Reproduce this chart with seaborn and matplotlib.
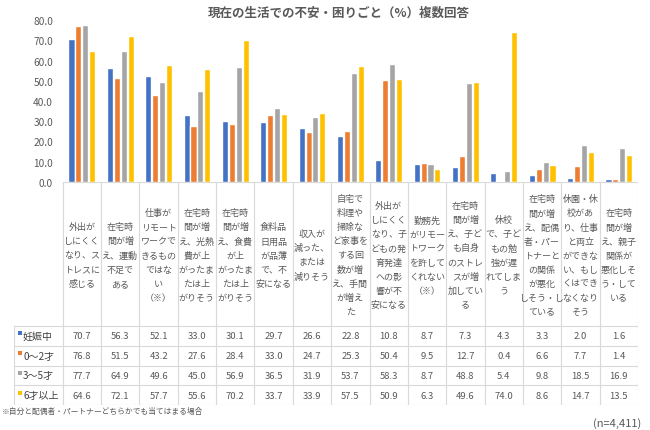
import numpy as np
import pandas as pd
import seaborn as sns
import matplotlib
matplotlib.use('Agg')
import matplotlib.pyplot as plt

# ---------------- data ----------------
categories = [
    '外出が\nしにくく\nなり、ス\nトレスに\n感じる',
    '在宅時\n間が増\nえ、運動\n不足で\nある',
    '仕事が\nリモート\nワークで\nきるもの\nではな\nい\n（※）',
    '在宅時\n間が増\nえ、光熱\n費が上\nがったま\nたは上\nがりそう',
    '在宅時\n間が増\nえ、食費\nが上\nがったま\nたは上\nがりそう',
    '食料品\n日用品\nが品薄\nで、不\n安になる',
    '収入が\n減った、\nまたは\n減りそう',
    '自宅で\n料理や\n掃除な\nど家事を\nする回\n数が増\nえ、手間\nが増え\nた',
    '外出が\nしにくく\nなり、子\nどもの発\n育発達\nへの影\n響が不\n安になる',
    '勤務先\nがリモー\nトワーク\nを許して\nくれない\n（※）',
    '在宅時\n間が増\nえ、子ど\nも自身\nのストレ\nスが増\n加してい\nる',
    '休校\nで、子ど\nもの勉\n強が遅\nれてしま\nう',
    '在宅時\n間が増\nえ、配偶\n者・パー\nトナーと\nの関係\nが悪化\nしそう・し\nている',
    '休園・休\n校があ\nり、仕事\nと両立\nができな\nい、もし\nくはでき\nなくなり\nそう',
    '在宅時\n間が増\nえ、親子\n関係が\n悪化しそ\nう・して\nいる',
]
groups = ['妊娠中', '0～2才', '3～5才', '6才以上']
pregnant = [70.7, 56.3, 52.1, 33.0, 30.1, 29.7, 26.6, 22.8, 10.8, 8.7, 7.3, 4.3, 3.3, 2.0, 1.6]
age_0_2 = [76.8, 51.5, 43.2, 27.6, 28.4, 33.0, 24.7, 25.3, 50.4, 9.5, 12.7, 0.4, 6.6, 7.7, 1.4]
age_3_5 = [77.7, 64.9, 49.6, 45.0, 56.9, 36.5, 31.9, 53.7, 58.3, 8.7, 48.8, 5.4, 9.8, 18.5, 16.9]
age_6_up = [64.6, 72.1, 57.7, 55.6, 70.2, 33.7, 33.9, 57.5, 50.9, 6.3, 49.6, 74.0, 8.6, 14.7, 13.5]
colors = ['#4472C4', '#ED7D31', '#A5A5A5', '#FFC000']

series = [pregnant, age_0_2, age_3_5, age_6_up]
keys = [c.replace('\n', '') for c in categories]
df = pd.DataFrame({
    'cat': np.tile(keys, len(groups)),
    'group': np.repeat(groups, len(keys)),
    'val': np.concatenate(series),
})

sns.set_style('white')
plt.rcParams['font.family'] = ['Noto Sans CJK JP', 'DejaVu Sans']
txt = '#595959'

W, H = 650, 431
fig = plt.figure(figsize=(6.5, 4.31), dpi=100)

# pixel layout
x0, x1 = 62.7, 638.0
y_top, y_base = 21.0, 183.0
colw = (x1 - x0) / len(keys)
ax = fig.add_axes([x0 / W, 1 - y_base / H, (x1 - x0) / W, (y_base - y_top) / H])

sns.barplot(data=df, x='cat', y='val', hue='group', order=keys, hue_order=groups,
            palette=colors, width=0.72, gap=0.12, ax=ax, legend=False,
            errorbar=None, saturation=1)
ax.set_xlim(-0.5, len(keys) - 0.5)
ax.set_ylim(0, 80)
ax.set_yticks(np.arange(0, 81, 10))
ax.set_yticklabels([f'{v:.1f}' for v in np.arange(0, 81, 10)], fontsize=7.3, color=txt)
ax.tick_params(axis='y', length=0, pad=7)
ax.set_xticks([])
ax.set_xlabel('')
ax.set_ylabel('')
for s in ax.spines.values():
    s.set_visible(False)

# ---------------- data table under the bars ----------------
tx_left = 14.0
y_cat_bot = 327.0
y_bottom = 406.0
row_h = (y_bottom - y_cat_bot) / len(groups)
tab = fig.add_axes([tx_left / W, 1 - y_bottom / H, (x1 - tx_left) / W, (y_bottom - y_base) / H])
xl = -0.5 - (x0 - tx_left) / colw
tab.set_xlim(xl, len(keys) - 0.5)
tab.set_ylim(y_bottom, y_base)
tab.axis('off')

def px(p):
    return -0.5 + (p - x0) / colw

lc = '#D9D9D9'
for i in range(len(keys) + 1):
    tab.plot([i - 0.5, i - 0.5], [y_base, y_bottom], color=lc, lw=0.8)
tab.plot([xl, xl], [y_cat_bot, y_bottom], color=lc, lw=0.8)
tab.plot([-0.5, len(keys) - 0.5], [y_base, y_base], color=lc, lw=0.8)
for r in range(len(groups) + 1):
    yy = y_cat_bot + r * row_h
    tab.plot([xl, len(keys) - 0.5], [yy, yy], color=lc, lw=0.8)

for i, lab in enumerate(categories):
    tab.text(i, (y_base + y_cat_bot) / 2 + 1, lab, ha='center', va='center',
             fontsize=6.5, color=txt, linespacing=1.72)

for r, (g, vals, c) in enumerate(zip(groups, series, colors)):
    yc = y_cat_bot + (r + 0.5) * row_h
    tab.scatter([px(19.5)], [yc - 2.5], marker='s', s=8, color=c, linewidths=0)
    tab.text(px(23), yc, g, ha='left', va='center', fontsize=7.2, color='#404040')
    for i, v in enumerate(vals):
        tab.text(i, yc, f'{v:.1f}', ha='center', va='center', fontsize=6.8, color=txt)

fig.text(339 / W, 1 - 13 / H, '現在の生活での不安・困りごと（%）複数回答',
         ha='center', va='center', fontsize=9, fontweight='bold', color=txt)
fig.text(2 / W, 1 - 412 / H, '※自分と配偶者・パートナーどちらかでも当てはまる場合',
         ha='left', va='center', fontsize=5.6, color=txt)
fig.text(641 / W, 1 - 424 / H, '(n=4,411)', ha='right', va='center', fontsize=8, color=txt)

fig.savefig('out.png', dpi=100)
